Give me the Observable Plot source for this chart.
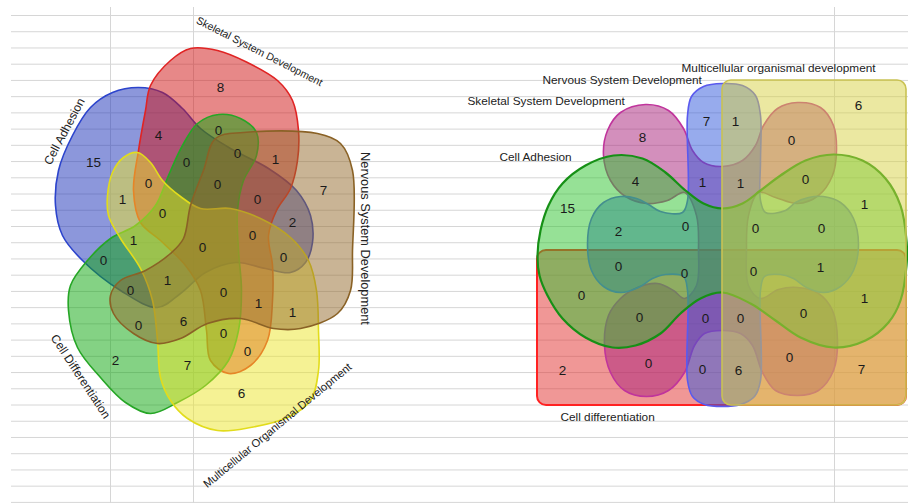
<!DOCTYPE html>
<html><head><meta charset="utf-8">
<script src="https://cdn.jsdelivr.net/npm/d3@7"></script>
<script src="https://cdn.jsdelivr.net/npm/@observablehq/plot@0.6"></script>
<style>body{margin:0;background:#fff;overflow:hidden}</style>
</head><body><div id="chart"></div>
<script>
// ---------------- DATA ----------------
const leftSets = ["Cell Adhesion", "Skeletal System Development", "Nervous System Development", "Multicellular Organismal Development", "Cell Differentiation"];
const leftRegionCounts = [8,4,0,15,0,1,0,7,0,1,0,0,0,2,0,1,0,0,0,1,0,0,1,1,0,6,0,2,0,7,6];
const rightSets = ["Cell Adhesion", "Skeletal System Development", "Nervous System Development", "Multicellular organismal development", "Cell differentiation"];
const rightRegionCounts = [6,7,1,8,0,4,1,1,0,15,1,2,0,0,0,0,0,0,1,0,1,0,0,0,0,0,0,2,0,6,7];

// ---------------- LAYOUT (pixel space) ----------------
const leftRegionXY = [[220,87],[158,135],[218,130],[93,162],[237,153],[275,159],[186,162],[323,190],[148,183],[122,199],[217,184],[257,199],[162,213],[292,222],[252,235],[133,240],[202,247],[103,260],[283,257],[167,280],[130,290],[223,292],[258,303],[292,312],[138,325],[183,321],[223,333],[115,360],[247,351],[187,365],[241,393]];
const rightRegionXY = [[858,105],[706,121],[735,121],[642,137],[791,140],[635,181],[702,182],[740,183],[805,179],[567,208],[864,204],[618,231],[685,226],[755,228],[821,228],[618,266],[684,273],[753,271],[820,267],[581,295],[864,298],[639,317],[705,318],[740,318],[803,313],[648,363],[789,357],[562,370],[702,369],[738,370],[861,369]];

// left label placement: [x, y, rotate, fontSize]
const leftLabelLayout = [[64,131,-62,12],[259,51,27,10.5],[365,238,90,12.8],[277,425,-39.6,11.2],[80,376,56.6,12]];
// right label placement: [x(start), y]
const rightLabelLayout = [[499,157],[467,101],[542,80],[681,68],[560,417]];

const leftShapes = [
  {fill:"#1a30b8", stroke:"#2c44cc", pts:[[112,92],[138,87],[162,92],[182,108],[200,128],[230,148],[268,168],[296,190],[310,215],[312,242],[305,262],[290,272],[265,268],[235,262],[205,272],[180,293],[157,307],[120,290],[82,260],[62,235],[55,205],[58,170],[72,135],[90,107]]},
  {fill:"#d01212", stroke:"#e02424", pts:[[150,85],[170,60],[190,48],[217,50],[247,62],[277,80],[292,100],[298,130],[297,160],[290,188],[276,210],[268,235],[272,265],[272,300],[267,340],[250,365],[228,373],[210,360],[206,330],[200,290],[185,265],[160,240],[140,222],[133,190],[138,150],[145,110]]},
  {fill:"#0aa60a", stroke:"#26a626", pts:[[197,123],[218,114],[240,118],[256,132],[256,155],[243,180],[237,210],[238,250],[241,290],[238,330],[228,360],[205,385],[177,402],[150,413],[125,402],[100,377],[77,347],[68,310],[70,285],[87,260],[110,238],[135,225],[155,205],[168,175],[182,145]]},
  {fill:"#ece52a", stroke:"#e2dc1c", pts:[[137,152],[150,162],[162,180],[180,196],[200,208],[230,208],[260,218],[290,237],[308,260],[316,290],[318,330],[318,370],[310,400],[287,417],[250,427],[217,430],[187,418],[170,400],[160,377],[157,340],[152,300],[140,268],[120,238],[108,215],[107,195],[112,172],[123,157]]},
  {fill:"#93692c", stroke:"#8a6226", pts:[[215,138],[243,132],[317,133],[340,143],[352,170],[352,250],[350,290],[337,313],[300,328],[273,328],[240,318],[207,323],[180,338],[157,343],[133,333],[113,313],[110,295],[120,280],[145,270],[170,253],[183,238],[190,205],[203,170]]}
];

const rightRects = [
  {x1:537, x2:906, y1:250, y2:405, fill:"#e2302e", stroke:"#ff2222"},
  {x1:722, x2:906, y1:80, y2:405, fill:"#d8d244", stroke:"#c9c254"}
];
const rightShapes = [
  {fill:"#a8207a", stroke:"#c0349c", width:1.6, pts:[[722,166],[742,160],[755,145],[763,125],[777,108],[797,102],[820,107],[833,125],[836,150],[832,175],[818,195],[797,203],[775,197],[758,192],[748,215],[746,250],[748,285],[760,298],[778,289],[797,287],[818,293],[832,310],[837,340],[833,370],[818,390],[797,395],[775,390],[762,372],[752,345],[740,333],[722,330],[704,333],[694,345],[684,372],[668,390],[646,396],[624,390],[610,372],[604,345],[608,315],[620,298],[637,287],[657,283],[673,290],[684,298],[696,285],[698,250],[696,215],[684,192],[667,200],[646,203],[625,196],[610,180],[603,155],[607,130],[620,112],[645,104],[668,110],[683,128],[692,150],[703,162]]},
  {fill:"#3058dc", stroke:"#5a5aee", width:1.6, pts:[[722,83],[742,85],[755,95],[760,115],[760,160],[760,200],[765,212],[785,210],[795,202],[808,197],[823,196],[840,202],[853,218],[858,244],[853,270],[840,286],[823,292],[806,287],[793,278],[780,274],[764,276],[760,290],[760,380],[754,396],[740,404],[722,406],[704,404],[692,396],[687,380],[687,290],[683,276],[665,274],[652,278],[638,287],[620,292],[603,286],[591,270],[587,244],[591,218],[603,202],[620,196],[636,198],[648,204],[660,211],[682,212],[687,200],[687,115],[691,96],[703,86]]},
  {fill:"#2dc32d", stroke:"#169016", width:2.2, pts:[[537,255],[540,230],[548,205],[562,183],[585,165],[613,155],[642,158],[665,172],[685,190],[703,203],[722,208],[742,203],[760,190],[780,175],[805,160],[833,154],[862,160],[885,178],[900,205],[906,240],[906,265],[900,300],[888,322],[865,340],[833,347],[800,337],[775,320],[750,303],[722,292],[700,298],[680,313],[660,333],[635,345],[612,347],[585,337],[562,318],[547,295],[539,275]]}
];

const gridY = d3.range(31).map(i => 15 + i * 16.23);
const gridX = [110, 193, 834];

// ---------------- BUILD ----------------
const font = "'Liberation Sans', Arial, sans-serif";
const toPts = s => s.pts.map(([x, y]) => ({x, y}));
const shapeMark = s => Plot.line(toPts(s), {x: "x", y: "y", curve: "catmull-rom-closed", fill: s.fill, fillOpacity: 0.5, stroke: s.stroke, strokeWidth: s.width || 1.6});

const leftNums = leftRegionCounts.map((v, i) => ({v, x: leftRegionXY[i][0], y: leftRegionXY[i][1]}));
const rightNums = rightRegionCounts.map((v, i) => ({v, x: rightRegionXY[i][0], y: rightRegionXY[i][1]}));

const marks = [
  Plot.ruleY(gridY, {x1: 11, x2: 908, y: d => d, stroke: "#d6d6d6", strokeWidth: 1}),
  Plot.ruleX(gridX, {x: d => d, y1: 7, y2: 503, stroke: "#d6d6d6", strokeWidth: 1}),
  ...leftShapes.map(shapeMark),
  Plot.rect(rightRects.slice(0, 1), {x1: "x1", x2: "x2", y1: "y1", y2: "y2", rx: 9, fill: d => d.fill, fillOpacity: 0.5, stroke: d => d.stroke, strokeWidth: 2}),
  ...rightShapes.map(shapeMark),
  Plot.rect(rightRects.slice(1), {x1: "x1", x2: "x2", y1: "y1", y2: "y2", rx: 9, fill: d => d.fill, fillOpacity: 0.5, stroke: d => d.stroke, strokeWidth: 1.6}),
  Plot.text(leftNums, {x: "x", y: "y", text: "v", fontSize: 13.5, fontFamily: font, fill: "#1a1a1a"}),
  Plot.text(rightNums, {x: "x", y: "y", text: "v", fontSize: 13.5, fontFamily: font, fill: "#1a1a1a"}),
  ...leftSets.map((name, i) => Plot.text([name], {x: leftLabelLayout[i][0], y: leftLabelLayout[i][1], text: d => d, rotate: leftLabelLayout[i][2], fontSize: leftLabelLayout[i][3], fontFamily: font, fill: "#222"})),
  ...rightSets.map((name, i) => Plot.text([name], {x: rightLabelLayout[i][0], y: rightLabelLayout[i][1], text: d => d, textAnchor: "start", fontSize: 11.8, fontFamily: font, fill: "#222"}))
];

const chart = Plot.plot({
  width: 908, height: 503,
  margin: 0,
  x: {type: "identity", axis: null},
  y: {type: "identity", axis: null},
  style: {background: "#fff"},
  marks
});
document.getElementById("chart").appendChild(chart);
</script>
</body></html>
